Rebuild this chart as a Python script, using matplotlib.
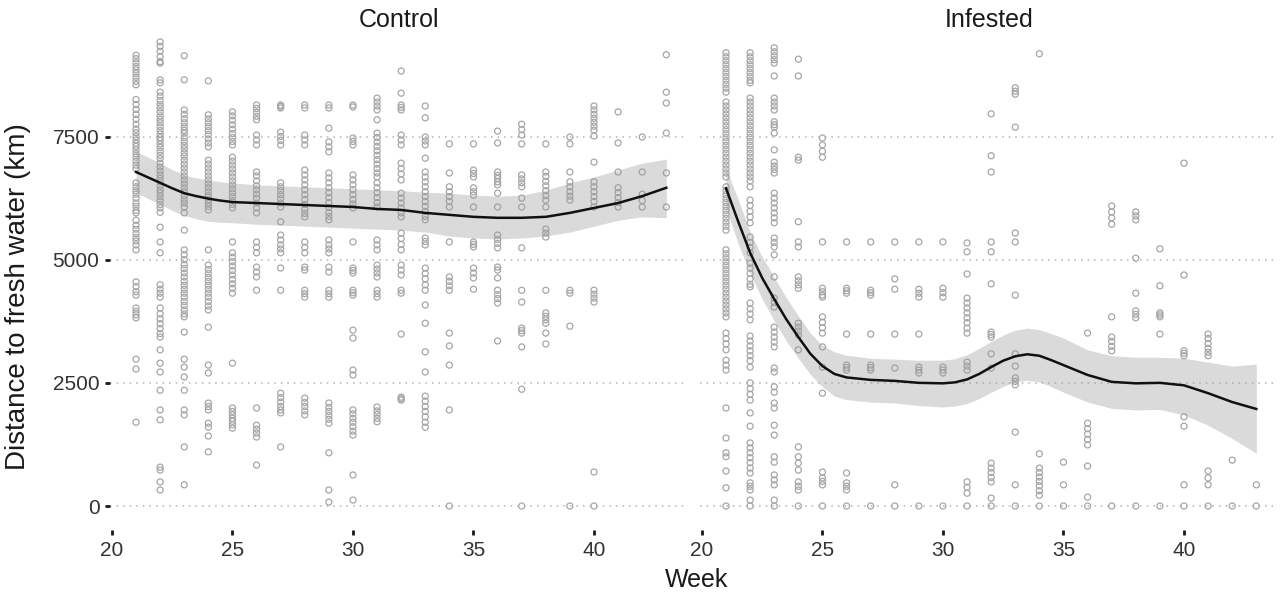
import numpy as np
import matplotlib.pyplot as plt

plt.rcParams['font.family'] = ['Liberation Sans', 'DejaVu Sans']

weeks = list(range(21, 44))

# distance to fresh water (km) per week, control ships
control_vals = [
    [9150, 9080, 9000, 8920, 8850, 8780, 8700, 8620, 8550, 8250, 8150, 8050, 7950, 7850, 7750, 7650, 7580, 7500,
     7430, 7360, 7300, 7230, 7150, 7080, 7000, 6920, 6850, 6560, 6480, 6400, 6330, 6250, 6150, 6080, 6000, 5950,
     5800, 5700, 5620, 5530, 5450, 5380, 5300, 5200, 4550, 4450, 4350, 4280, 4020, 3950, 3880, 3820, 2980, 2780, 1700],
    [9420, 9330, 9230, 9120, 9020, 8990, 8650, 8590, 8400, 8320, 8230, 8150, 8080, 8000, 7920, 7850, 7780, 7700,
     7620, 7550, 7480, 7420, 7350, 7280, 7200, 7120, 7050, 6960, 6880, 6800, 6720, 6650, 6580, 6500, 6420, 6350,
     6280, 6200, 6120, 6050, 5960, 5660, 5360, 5140, 4490, 4400, 4320, 4240, 4020, 3900, 3800, 3700, 3600, 3500,
     3430, 3170, 2900, 2720, 2350, 1950, 1750, 790, 730, 490, 325],
    [9140, 8650, 8040, 7950, 7860, 7780, 7700, 7630, 7570, 7480, 7400, 7320, 7250, 7170, 7100, 7020, 6940, 6860,
     6780, 6700, 6620, 6540, 6460, 6380, 6300, 6220, 6150, 6070, 5950, 5600, 5200, 5100, 5000, 4900, 4820, 4730,
     4650, 4560, 4480, 4400, 4320, 4240, 4150, 4070, 3980, 3900, 3840, 3530, 2980, 2820, 2620, 2350, 1950, 1850,
     1200, 430],
    [8630, 7940, 7860, 7780, 7700, 7620, 7540, 7450, 7370, 7290, 7020, 6940, 6860, 6780, 6700, 6620, 6540, 6460,
     6380, 6300, 6220, 6150, 6080, 6010, 5200, 4890, 4800, 4720, 4640, 4560, 4480, 4400, 4320, 4240, 4150, 4060,
     3980, 3630, 2860, 2700, 2090, 2020, 1950, 1680, 1600, 1420, 1100],
    [8000, 7920, 7830, 7740, 7650, 7560, 7480, 7400, 7330, 7080, 7000, 6920, 6840, 6760, 6680, 6600, 6520, 6440,
     6360, 6280, 6200, 6120, 6050, 5360, 5140, 5050, 4960, 4870, 4780, 4690, 4600, 4510, 4420, 4320, 2900, 1990,
     1920, 1850, 1780, 1720, 1650, 1580],
    [8140, 8070, 7990, 7910, 7840, 7530, 7430, 7330, 6780, 6700, 6600, 6500, 6420, 6330, 6250, 6150, 6050, 5950,
     5360, 5250, 5140, 4850, 4750, 4650, 4380, 1990, 1640, 1560, 1480, 1400, 830],
    [8140, 8110, 8080, 7590, 7500, 7420, 7330, 6560, 6480, 6400, 6320, 6240, 6150, 6070, 5770, 5500, 5400, 5300,
     5220, 5140, 4830, 4380, 2290, 2200, 2110, 2020, 1950, 1890, 1200],
    [8140, 8080, 7530, 7430, 7330, 6820, 6720, 6620, 6520, 6420, 6320, 6220, 6120, 6020, 5940, 5870, 5360, 5250,
     5140, 4850, 4790, 4380, 4310, 4240, 2190, 2100, 2020, 1930, 1850],
    [8140, 8080, 7670, 7390, 7290, 7190, 6760, 6660, 6560, 6460, 6360, 6260, 6160, 6060, 5960, 5880, 5810, 5400,
     5300, 5220, 5140, 4850, 4750, 4380, 4310, 4240, 2090, 2000, 1920, 1840, 1760, 1680, 1080, 325, 80],
    [8140, 8100, 7470, 7400, 7330, 6720, 6620, 6520, 6420, 6320, 6220, 6130, 6050, 5360, 4830, 4780, 4730, 4380,
     4330, 4280, 3570, 3410, 2760, 2660, 1950, 1870, 1780, 1700, 1610, 1520, 1440, 630, 120],
    [8280, 8200, 8120, 8040, 7840, 7570, 7480, 7390, 7300, 7210, 7120, 7030, 6940, 6850, 6760, 6680, 6560, 6460,
     6360, 6260, 6160, 6070, 5400, 5300, 5200, 4890, 4810, 4730, 4650, 4380, 4310, 4240, 2010, 1930, 1860, 1780, 1710],
    [8830, 8380, 8140, 8090, 8040, 7530, 7430, 7330, 6960, 6850, 6740, 6620, 6350, 6250, 6150, 6050, 5950, 5870,
     5540, 5430, 5310, 5200, 4890, 4790, 4690, 4380, 4320, 3490, 2210, 2180, 2150],
    [8120, 7880, 7490, 7410, 7330, 7060, 6780, 6680, 6580, 6480, 6380, 6280, 6180, 6080, 5980, 5880, 5810, 5440,
     5370, 5300, 4830, 4720, 4610, 4490, 4380, 4080, 3710, 3130, 2720, 2230, 2130, 2020, 1920, 1810, 1700, 1600],
    [7350, 6760, 6480, 6380, 6280, 6180, 6070, 5360, 4650, 4560, 4470, 4380, 3510, 3250, 2860, 1950, 0],
    [7350, 6820, 6750, 6680, 6460, 6380, 6310, 6070, 5360, 5310, 5260, 4830, 4730, 4630, 4400],
    [7610, 7370, 6780, 6710, 6650, 6580, 6520, 6350, 6070, 5500, 5410, 5330, 5240, 4850, 4790, 4630, 4380, 4290,
     4210, 4120, 3350],
    [7750, 7640, 7530, 7350, 6720, 6640, 6560, 6480, 6250, 6070, 5240, 4380, 4140, 3610, 3560, 3510, 3230, 2370, 0],
    [7350, 6780, 6690, 6590, 6500, 6400, 6300, 6210, 6070, 5620, 5540, 5460, 4380, 3920, 3850, 3780, 3710, 3510, 3290],
    [7490, 7350, 6780, 6580, 6480, 6380, 6290, 6210, 4380, 4320, 3650, 0],
    [8120, 8040, 7950, 7870, 7790, 7710, 7630, 7510, 6980, 6580, 6480, 6380, 6280, 6180, 6070, 4380, 4300, 4220,
     4140, 690, 0],
    [8000, 7370, 6780, 6460, 6360, 6260, 6160, 6070],
    [7490, 6780, 6330, 6200, 6070],
    [9160, 8400, 8180, 7570, 6760, 6070],
]

# infested ships
infested_vals = [
    [9200, 9120, 9040, 8960, 8880, 8800, 8720, 8640, 8560, 8480, 8400, 8200, 8120, 8040, 7960, 7880, 7800, 7720,
     7640, 7560, 7480, 7400, 7320, 7240, 7160, 7080, 7000, 6920, 6840, 6760, 6680, 6480, 6400, 6320, 6240, 6160,
     6080, 6000, 5920, 5840, 5760, 5680, 5600, 5200, 5120, 5040, 4960, 4880, 4800, 4720, 4640, 4560, 4480, 4400,
     4320, 4240, 4160, 4080, 4000, 3920, 3840, 3510, 3400, 3290, 3170, 2960, 2860, 2760, 1990, 1380, 1080, 1000,
     710, 370, 0],
    [9200, 9120, 9040, 8960, 8880, 8800, 8720, 8640, 8590, 8280, 8200, 8120, 8040, 7960, 7880, 7800, 7720, 7640,
     7560, 7480, 7400, 7320, 7240, 7160, 7080, 7000, 6920, 6840, 6760, 6680, 6600, 6480, 6210, 6100, 5980, 5870,
     5750, 5460, 5350, 5250, 5140, 4930, 4830, 4720, 4610, 4500, 4450, 4120, 4000, 3900, 3780, 3450, 3350, 3250,
     3150, 3050, 2950, 2820, 2500, 2380, 2270, 2150, 1890, 1620, 1280, 1180, 1080, 980, 880, 770, 670, 470, 400,
     325, 120, 0],
    [9300, 9220, 9140, 9060, 8990, 8730, 8280, 8200, 8120, 8040, 7800, 7740, 7690, 7570, 7230, 6980, 6900, 6830,
     6760, 6350, 6250, 6150, 6050, 5950, 5850, 5750, 5440, 5350, 5260, 5100, 4650, 4220, 4130, 4040, 3630, 3530,
     3430, 3330, 3230, 2800, 2720, 2420, 2310, 2090, 1990, 1640, 1440, 1000, 890, 630, 530, 430, 120, 0],
    [9070, 8730, 7080, 7020, 5770, 5360, 5260, 4650, 4570, 4490, 4420, 3710, 3630, 3550, 3470, 3170, 1200, 1000,
     870, 730, 490, 400, 325, 0],
    [7470, 7330, 7200, 7080, 5360, 4420, 4350, 4280, 4240, 3840, 3730, 3620, 3510, 3230, 2820, 2290, 690, 570,
     500, 430, 0],
    [5360, 4420, 4370, 4320, 3490, 2860, 2810, 2760, 670, 470, 400, 325, 0],
    [5360, 4380, 4330, 4280, 3490, 2860, 2810, 2760, 0],
    [5360, 4610, 4400, 3490, 2800, 430, 0],
    [5360, 4400, 4320, 4240, 3490, 2820, 2760, 2700, 0],
    [5360, 4420, 4330, 4240, 2820, 2760, 2700, 0],
    [5340, 5160, 4710, 4220, 4120, 4020, 3920, 3820, 3720, 3610, 3510, 2920, 2840, 2760, 490, 380, 260, 0],
    [7960, 7110, 6780, 5360, 5160, 4510, 3530, 3480, 3430, 3090, 2800, 870, 770, 680, 580, 490, 160, 0],
    [8490, 8420, 8360, 7690, 5540, 5360, 4280, 3090, 2840, 2600, 2530, 2460, 1500, 430, 0],
    [9180, 1060, 770, 680, 590, 500, 410, 310, 220, 0],
    [890, 430, 0],
    [3510, 1680, 1570, 1460, 1350, 1240, 810, 180, 0],
    [6090, 5970, 5850, 5720, 3840, 3430, 3340, 3240, 3150, 0],
    [5970, 5890, 5810, 5030, 4320, 3960, 3890, 3820, 0],
    [5220, 4470, 3920, 3880, 3840, 3490, 0],
    [6960, 4690, 3150, 3100, 3050, 1810, 1620, 430, 0],
    [3490, 3400, 3300, 3200, 3120, 3050, 710, 570, 430, 0],
    [930, 0],
    [430, 0],
]

# smoothed trend with confidence band
ctrl_fit_x = [21, 21.5, 22, 22.5, 23, 23.5, 24, 24.5, 25, 26, 27, 28, 29, 30, 31, 32, 33, 34, 35, 36, 37,
              38, 39, 40, 41, 42, 43]
ctrl_fit = [6780, 6670, 6560, 6450, 6350, 6290, 6240, 6200, 6170, 6150, 6130, 6110, 6090, 6070, 6030, 6010,
            5950, 5910, 5870, 5850, 5850, 5870, 5950, 6050, 6150, 6290, 6460]
ctrl_hi = [7200, 7080, 6960, 6830, 6720, 6660, 6620, 6580, 6560, 6520, 6500, 6480, 6460, 6440, 6420, 6400,
           6370, 6350, 6310, 6290, 6310, 6410, 6560, 6680, 6820, 6960, 7040]
ctrl_lo = [6360, 6240, 6120, 6000, 5900, 5830, 5780, 5760, 5750, 5720, 5700, 5680, 5660, 5640, 5620, 5600,
           5560, 5480, 5440, 5420, 5440, 5480, 5560, 5680, 5800, 5870, 5850]

inf_fit_x = [21, 21.5, 22, 22.5, 23, 23.5, 24, 24.5, 25, 25.5, 26, 27, 28, 29, 30, 30.5, 31, 31.5, 32, 32.5,
             33, 33.5, 34, 34.5, 35, 36, 37, 38, 39, 40, 41, 42, 43]
inf_fit = [6450, 5780, 5140, 4630, 4200, 3790, 3430, 3090, 2840, 2680, 2610, 2560, 2540, 2500, 2490, 2510,
           2570, 2680, 2820, 2950, 3040, 3080, 3050, 2960, 2860, 2660, 2520, 2490, 2500, 2450, 2290, 2110, 1970]
inf_hi = [6850, 6230, 5560, 5060, 4640, 4230, 3860, 3510, 3260, 3130, 3060, 3000, 2980, 2960, 2960, 2990,
          3070, 3200, 3340, 3470, 3570, 3610, 3580, 3500, 3410, 3170, 3050, 3020, 3020, 3000, 2920, 2840, 2880]
inf_lo = [6050, 5330, 4720, 4200, 3760, 3350, 3000, 2670, 2420, 2230, 2160, 2110, 2090, 2040, 2010, 2030,
          2080, 2180, 2310, 2430, 2520, 2550, 2520, 2420, 2310, 2110, 1980, 1950, 1960, 1850, 1640, 1370, 1070]

yticks = [0, 2500, 5000, 7500]
xticks = [20, 25, 30, 35, 40]

W, H = 1285, 600
fig = plt.figure(figsize=(W / 100, H / 100), dpi=100)
ax1 = fig.add_axes([110 / W, 70 / H, 578 / W, 492 / H])
ax2 = fig.add_axes([700 / W, 70 / H, 578 / W, 492 / H])

panels = [
    (ax1, 'Control', control_vals, ctrl_fit_x, ctrl_fit, ctrl_lo, ctrl_hi),
    (ax2, 'Infested', infested_vals, inf_fit_x, inf_fit, inf_lo, inf_hi),
]

for ax, title, vals, fx, fy, lo, hi in panels:
    for y in yticks:
        ax.axhline(y, color='#b3b3b3', lw=1.1, ls=(0, (1, 3.3)), zorder=0)
    for w, v in zip(weeks, vals):
        ax.scatter([w] * len(v), v, s=19, facecolors='none', edgecolors='#a6a6a6',
                   linewidths=0.9, zorder=2)
    ax.fill_between(fx, lo, hi, color='#999999', alpha=0.36, lw=0, zorder=3)
    ax.plot(fx, fy, color='#111111', lw=1.8, zorder=4, solid_joinstyle='round')

    ax.set_xlim(19.92, 43.9)
    ax.set_ylim(-487, 9500)
    ax.set_xticks(xticks)
    ax.set_yticks(yticks)
    for s in ax.spines.values():
        s.set_visible(False)
    ax.tick_params(axis='both', length=3.6, width=2, color='#1a1a1a', labelsize=15,
                   labelcolor='#333333', pad=4)
    ax.text(0.5, 1.0 + 18 / 492, title, transform=ax.transAxes, ha='center', va='center',
            fontsize=18, color='#1a1a1a')

ax2.tick_params(axis='y', left=False, labelleft=False)

fig.text(697 / W, 1 - 580 / H, 'Week', ha='center', va='center', fontsize=18, color='#1a1a1a')
fig.text(18 / W, 1 - 297 / H, 'Distance to fresh water (km)', ha='center', va='center',
         rotation=90, fontsize=20, color='#1a1a1a')

fig.savefig('out.png', dpi=100)
